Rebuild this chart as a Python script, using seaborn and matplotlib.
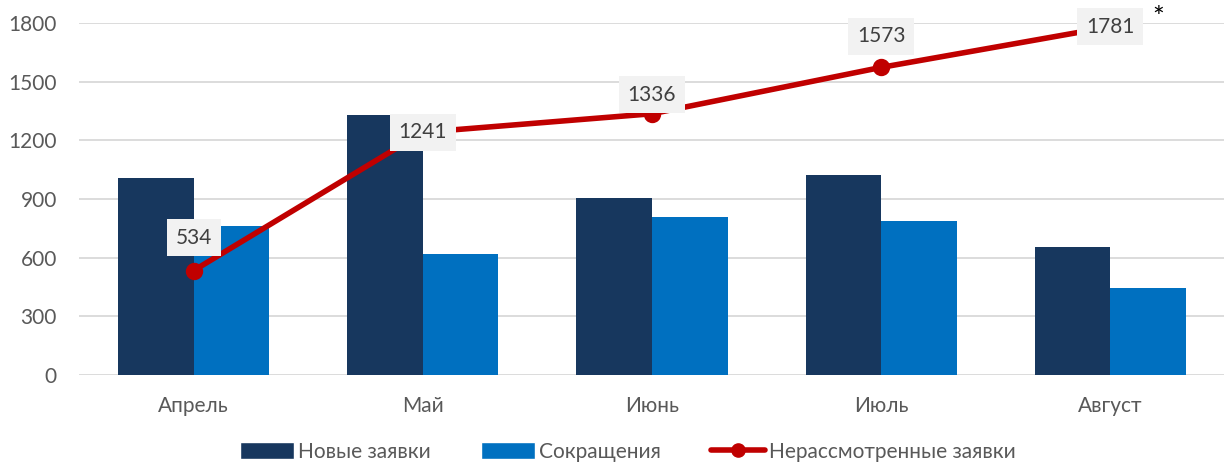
import numpy as np
import pandas as pd
import matplotlib.pyplot as plt
from matplotlib.patches import Patch
from matplotlib.lines import Line2D
import seaborn as sns

months = ['Апрель', 'Май', 'Июнь', 'Июль', 'Август']
new_requests = [1007, 1328, 903, 1022, 652]
cuts = [763, 620, 806, 786, 443]
pending = [534, 1241, 1336, 1573, 1781]

series_names = ['Новые заявки', 'Сокращения', 'Нерассмотренные заявки']
colors = ['#17375E', '#0070C0', '#C00000']

# label offsets (pixels) relative to the point
label_dy = [33, 0, 19, 31, 0]

df = pd.DataFrame({
    'month': months * 2,
    'value': new_requests + cuts,
    'series': [series_names[0]] * 5 + [series_names[1]] * 5,
})

sns.set_style('white')
plt.rcParams['font.family'] = ['Lato', 'DejaVu Sans']
text_color = '#595959'

fig = plt.figure(figsize=(12.24, 4.69), dpi=100)
ax = fig.add_axes([79 / 1224, 94 / 469, 1146 / 1224, 352 / 469])

sns.barplot(data=df, x='month', y='value', hue='series', palette=colors[:2],
            width=0.66, gap=0, linewidth=0, saturation=1, legend=False, ax=ax)
sns.pointplot(x=months, y=pending, color=colors[2], markers='o',
              linewidth=4, markersize=9.5, ax=ax)

for i, v in enumerate(pending):
    ax.annotate(str(v), xy=(i, v), xytext=(0, label_dy[i]), textcoords='offset pixels',
                ha='center', va='center', fontsize=15, color='#404040',
                bbox=dict(boxstyle='square,pad=0.42', facecolor='#F2F2F2', edgecolor='none'),
                zorder=5)
ax.annotate('*', xy=(4, pending[4]), xytext=(48, 8), textcoords='offset pixels',
            ha='center', va='center', fontsize=20, color='black')

ax.set_ylim(0, 1800)
ax.set_xlim(-0.5, 4.5)
ax.set_yticks(np.arange(0, 1801, 300))
ax.yaxis.grid(True, color='#D9D9D9', linewidth=1.3)
ax.set_axisbelow(True)
for s in ax.spines.values():
    s.set_visible(False)
ax.tick_params(axis='both', length=0, labelsize=15, labelcolor=text_color)
ax.tick_params(axis='y', pad=16)
ax.tick_params(axis='x', pad=15)
ax.set_xlabel('')
ax.set_ylabel('')

handles = [
    Patch(facecolor=colors[0]),
    Patch(facecolor=colors[1]),
    Line2D([0], [0], color=colors[2], linewidth=4, marker='o', markersize=9.5),
]
fig.legend(handles, series_names, loc='lower center', bbox_to_anchor=(628 / 1224, -0.025),
           ncol=3, frameon=False, fontsize=15, labelcolor=text_color,
           handlelength=2.6, handleheight=0.9, handletextpad=0.2, columnspacing=2.4)

fig.savefig('out.png', dpi=100)
